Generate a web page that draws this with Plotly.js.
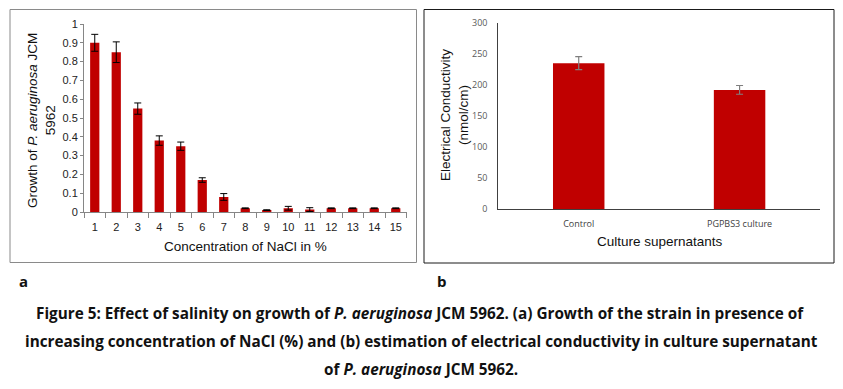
<!DOCTYPE html>
<html>
<head>
<meta charset="utf-8">
<script src="https://cdn.plot.ly/plotly-3.0.1.min.js"></script>
<style>html,body{margin:0;padding:0;background:#fff;}</style>
</head>
<body>
<div id="chart" style="width:843px;height:389px;"></div>
<script>
// Panel a data
const naclConc = ["1","2","3","4","5","6","7","8","9","10","11","12","13","14","15"];
const growth = [0.90, 0.85, 0.55, 0.38, 0.35, 0.17, 0.08, 0.02, 0.01, 0.02, 0.013, 0.02, 0.02, 0.02, 0.02];
const growthErr = [0.045, 0.055, 0.03, 0.025, 0.022, 0.012, 0.018, 0.002, 0.002, 0.01, 0.01, 0.002, 0.002, 0.002, 0.002];
// Panel b data
const supernatants = ["Control", "PGPBS3 culture"];
const conductivity = [235, 192];
const conductivityErr = [10.5, 7];

const W = 843, H = 389;
const px = v => v / W;
const py = v => 1 - v / H;

const traces = [
  {
    type: 'bar', x: naclConc, y: growth, xaxis: 'x', yaxis: 'y',
    marker: {color: '#c00000'},
    error_y: {type: 'data', array: growthErr, visible: true, color: '#000', thickness: 1, width: 3.5},
    hoverinfo: 'none'
  },
  {
    type: 'bar', x: supernatants, y: conductivity, xaxis: 'x2', yaxis: 'y2',
    width: [0.32, 0.32],
    marker: {color: '#c00000'},
    error_y: {type: 'data', array: conductivityErr, visible: true, color: '#7f7f7f', thickness: 1.2, width: 3.5},
    hoverinfo: 'none'
  }
];

const sansA = 'Liberation Sans, Arial, sans-serif';
const sansC = 'Open Sans, sans-serif';

function ann(x, y, text, font, extra) {
  return Object.assign({xref: 'paper', yref: 'paper', x: px(x), y: py(y), text: text,
    xanchor: 'center', yanchor: 'middle', showarrow: false, font: font, align: 'center'}, extra || {});
}

const layout = {
  width: W, height: H,
  margin: {l: 0, r: 0, t: 0, b: 0},
  paper_bgcolor: '#fff', plot_bgcolor: '#fff',
  showlegend: false,
  bargap: 0.57,
  xaxis: {
    domain: [px(84), px(406.5)], anchor: 'y', type: 'category',
    showline: true, linecolor: '#868686', linewidth: 1,
    ticks: 'outside', tickson: 'boundaries', ticklen: 5, tickcolor: '#868686',
    ticklabelstandoff: 5,
    tickfont: {family: sansA, size: 11, color: '#222'},
    showgrid: false, zeroline: false, fixedrange: true
  },
  yaxis: {
    domain: [py(212), py(24)], anchor: 'x', range: [0, 1], dtick: 0.1,
    showline: true, linecolor: '#868686', linewidth: 1,
    ticks: 'outside', ticklen: 3, tickcolor: '#868686',
    tickfont: {family: sansA, size: 11, color: '#222'},
    showgrid: false, zeroline: false, fixedrange: true
  },
  xaxis2: {
    domain: [px(498.3), px(820)], anchor: 'y2', type: 'category',
    showline: true, linecolor: '#404040', linewidth: 1, ticks: '',
    ticklabelstandoff: 6,
    tickfont: {family: sansC, size: 9, color: '#404040'},
    showgrid: false, zeroline: false, fixedrange: true
  },
  yaxis2: {
    domain: [py(209.3), py(22.7)], anchor: 'x2', range: [0, 300], dtick: 50,
    showline: true, linecolor: '#404040', linewidth: 1, ticks: '',
    ticklabelstandoff: 8,
    tickfont: {family: sansC, size: 9, color: '#595959'},
    showgrid: false, zeroline: false, fixedrange: true
  },
  shapes: [
    {type: 'rect', xref: 'paper', yref: 'paper', x0: px(10), x1: px(416.5), y0: py(262.5), y1: py(9.5),
     line: {color: '#8a8a8a', width: 1}},
    {type: 'rect', xref: 'paper', yref: 'paper', x0: px(424), x1: px(834), y0: py(263), y1: py(9.5),
     line: {color: '#1a1a1a', width: 1}}
  ],
  annotations: [
    ann(41, 121, 'Growth of <i>P. aeruginosa</i> JCM<br>5962', {family: sansA, size: 13.5, color: '#111'}, {textangle: -90}),
    ann(245, 247, 'Concentration of NaCl in %', {family: sansA, size: 13.5, color: '#111'}),
    ann(455, 115, 'Electrical Conductivity<br>(nmol/cm)', {family: sansA, size: 13.5, color: '#111'}, {textangle: -90}),
    ann(659.5, 241, 'Culture supernatants', {family: sansA, size: 13.5, color: '#111'}),
    ann(23, 281, '<b>a</b>', {family: sansC, size: 15, color: '#111'}),
    ann(442, 281, '<b>b</b>', {family: sansC, size: 15, color: '#111'}),
    ann(420, 313, '<b>Figure 5: Effect of salinity on growth of <i>P. aeruginosa</i> JCM 5962. (a) Growth of the strain in presence of</b>', {family: sansC, size: 15.3, color: '#111'}),
    ann(421, 341, '<b>increasing concentration of NaCl (%) and (b) estimation of electrical conductivity in culture supernatant</b>', {family: sansC, size: 15.3, color: '#111'}),
    ann(421, 369, '<b>of <i>P. aeruginosa</i> JCM 5962.</b>', {family: sansC, size: 15.3, color: '#111'})
  ]
};

Plotly.newPlot('chart', traces, layout, {displayModeBar: false, staticPlot: true});
</script>
</body>
</html>
